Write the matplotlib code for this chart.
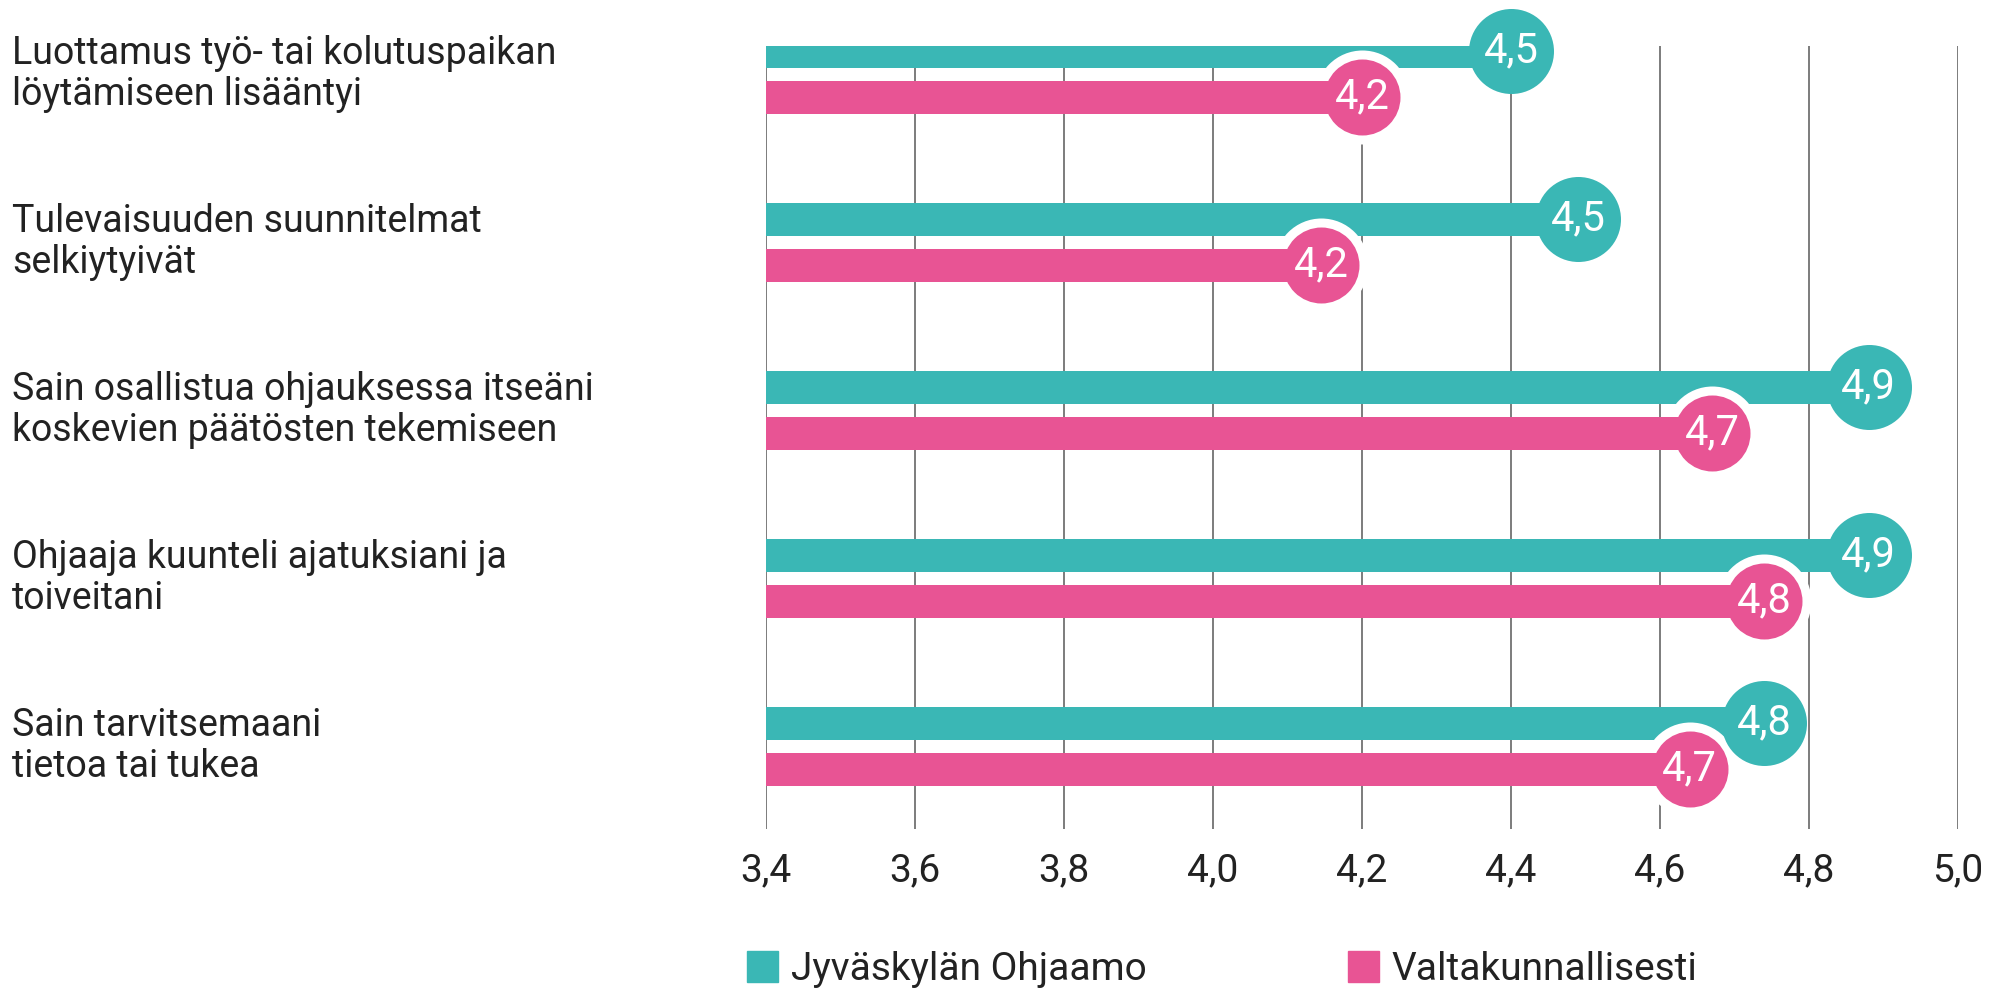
import numpy as np
import matplotlib
matplotlib.use("Agg")
import matplotlib.pyplot as plt
from matplotlib.patches import Patch

plt.rcParams['font.family'] = ['Roboto', 'DejaVu Sans']

categories = ["Luottamus työ- tai kolutuspaikan\nlöytämiseen lisääntyi",
              "Tulevaisuuden suunnitelmat\nselkiytyivät",
              "Sain osallistua ohjauksessa itseäni\nkoskevien päätösten tekemiseen",
              "Ohjaaja kuunteli ajatuksiani ja\ntoiveitani",
              "Sain tarvitsemaani\ntietoa tai tukea"]
series_names = ["Jyväskylän Ohjaamo", "Valtakunnallisesti"]
# bar end positions as drawn in the picture
jkl_values = [4.40, 4.49, 4.88, 4.88, 4.74]
nat_values = [4.20, 4.145, 4.67, 4.74, 4.64]
# values printed in the circles
jkl_labels = ["4,5", "4,5", "4,9", "4,9", "4,8"]
nat_labels = ["4,2", "4,2", "4,7", "4,8", "4,7"]
xticks = [3.4, 3.6, 3.8, 4.0, 4.2, 4.4, 4.6, 4.8, 5.0]

teal = "#3ab7b5"
pink = "#e85494"
txt = "#222222"

fig = plt.figure(figsize=(20.11, 9.91), dpi=100)
ax = fig.add_axes([766 / 2011, 1 - 829 / 991, (1958 - 766) / 2011, (829 - 46) / 991])

y = np.arange(len(categories))
off = 23 / 168
bh = 33 / 168
x0 = xticks[0]

ax.barh(y - off, np.array(jkl_values) - x0, left=x0, height=bh, color=teal, zorder=2)
# white halo behind the pink circles
ax.scatter(nat_values, y + off, s=(94 * 0.72) ** 2, color="white", zorder=3, clip_on=False, linewidths=0)
ax.barh(y + off, np.array(nat_values) - x0, left=x0, height=bh, color=pink, zorder=4)
ax.scatter(nat_values, y + off, s=(76 * 0.72) ** 2, color=pink, zorder=5, clip_on=False, linewidths=0)
ax.scatter(jkl_values, y - off, s=(85 * 0.72) ** 2, color=teal, zorder=6, clip_on=False, linewidths=0)

for i in range(len(categories)):
    ax.text(jkl_values[i], y[i] - off, jkl_labels[i], color="white", fontsize=30,
            ha="center", va="center", zorder=7)
    ax.text(nat_values[i], y[i] + off, nat_labels[i], color="white", fontsize=30,
            ha="center", va="center", zorder=7)
    ax.text(12 / 2011, 1 - (74 + 168 * i) / 991, categories[i], transform=fig.transFigure,
            fontsize=27, color=txt, ha="left", va="center", linespacing=1.15)

ax.set_xlim(3.4, 5.0)
ax.set_ylim((829 - 74) / 168, (46 - 74) / 168)
ax.set_xticks(xticks)
ax.set_xticklabels([f"{v:.1f}".replace(".", ",") for v in xticks], fontsize=28, color=txt)
ax.set_yticks([])
ax.tick_params(axis="x", length=0, pad=17)
ax.grid(axis="x", color="#666666", linewidth=1.2, zorder=0)
ax.set_axisbelow(True)
for s in ax.spines.values():
    s.set_visible(False)

handles = [Patch(color=teal, label=series_names[0]), Patch(color=pink, label=series_names[1])]
fig.legend(handles=handles, loc="center left", bbox_to_anchor=(712 / 2011, 1 - 969 / 991),
           ncol=2, frameon=False, fontsize=28, handlelength=0.8, handleheight=0.85,
           handletextpad=0.33, columnspacing=5.17, labelcolor=txt)

fig.savefig("out.png", dpi=100)
